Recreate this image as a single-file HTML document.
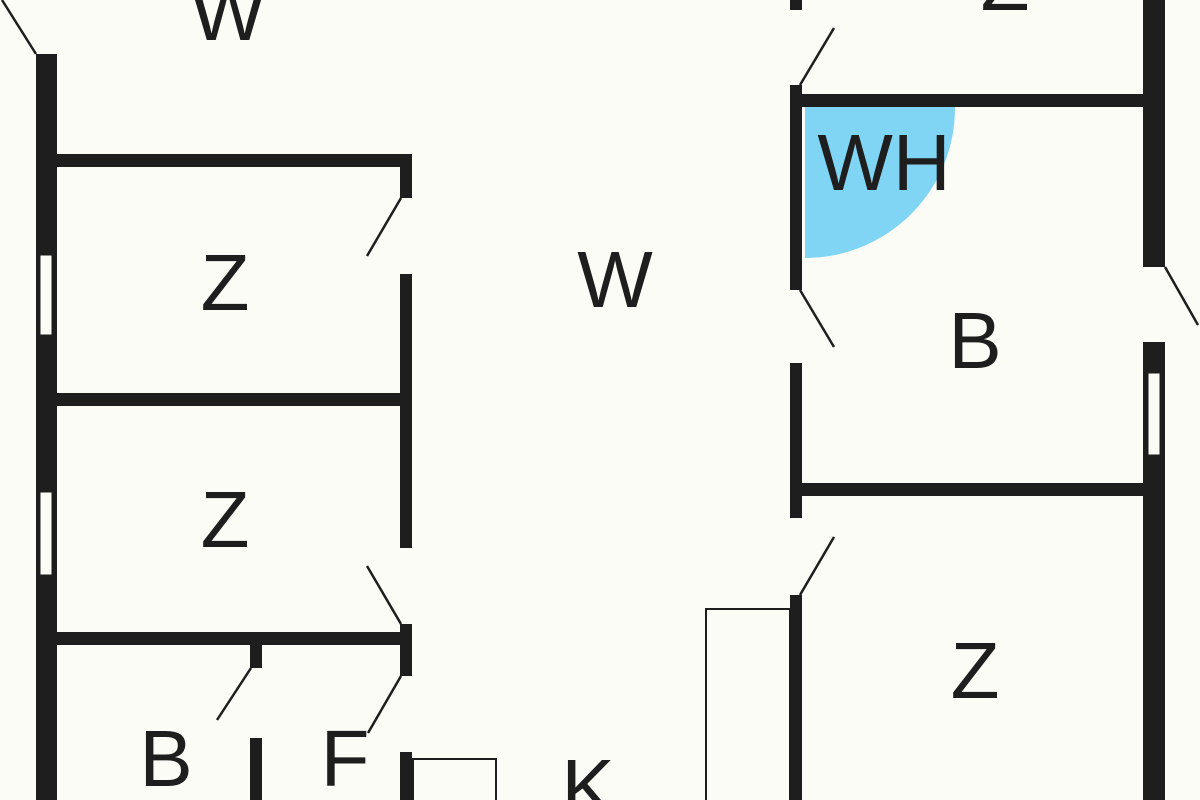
<!DOCTYPE html>
<html><head><meta charset="utf-8"><style>html,body{margin:0;padding:0;background:#fcfcf7;}svg{display:block}</style></head>
<body>
<svg width="1200" height="800" viewBox="0 0 1200 800" xmlns="http://www.w3.org/2000/svg">
<rect width="1200" height="800" fill="#fcfcf7"/>
<path d="M805,107 L955,107 A150,150 0 0 1 805,258 Z" fill="#80d4f4"/>
<g fill="#1e1e1e">
<!-- left outer wall -->
<rect x="36" y="54" width="21" height="746"/>
<!-- left rooms -->
<rect x="56" y="154" width="356" height="13"/>
<rect x="400" y="154" width="12" height="44"/>
<rect x="400" y="274" width="12" height="274"/>
<rect x="56" y="393" width="356" height="13"/>
<rect x="400" y="624" width="12" height="52"/>
<rect x="56" y="632" width="356" height="13"/>
<rect x="250" y="645" width="12" height="23"/>
<rect x="250" y="738" width="12" height="62"/>
<rect x="400" y="752" width="12" height="48"/>
<!-- right column -->
<rect x="790" y="0" width="12" height="10"/>
<rect x="790" y="85" width="12" height="205"/>
<rect x="790" y="363" width="12" height="155"/>
<rect x="790" y="595" width="12" height="205"/>
<rect x="802" y="94" width="341" height="13"/>
<rect x="802" y="483" width="341" height="13"/>
<rect x="1143" y="0" width="22" height="267"/>
<rect x="1143" y="342" width="22" height="458"/>
</g>
<!-- windows -->
<g fill="#fcfcf7" stroke="#1e1e1e" stroke-width="1">
<rect x="40" y="255" width="12" height="80"/>
<rect x="40" y="492" width="12" height="83"/>
<rect x="1148" y="373" width="12" height="82"/>
</g>
<!-- door swings -->
<g stroke="#1e1e1e" stroke-width="2.5" fill="none">
<line x1="36" y1="54" x2="2" y2="0"/>
<line x1="401" y1="198" x2="367" y2="256"/>
<line x1="401" y1="624" x2="367" y2="566"/>
<line x1="251" y1="668" x2="217" y2="720"/>
<line x1="401" y1="676" x2="368" y2="733"/>
<line x1="800" y1="85" x2="834" y2="28"/>
<line x1="800" y1="290" x2="834" y2="347"/>
<line x1="800" y1="595" x2="834" y2="537"/>
<line x1="1165" y1="267" x2="1198" y2="325"/>
</g>
<!-- furniture -->
<g fill="none" stroke="#1e1e1e" stroke-width="2">
<rect x="413" y="759" width="83" height="45"/>
<rect x="706" y="609" width="84" height="195"/>
</g>
<g font-family="'Liberation Sans', sans-serif" font-size="80" fill="#1e1e1e" text-anchor="middle">
<text x="228" y="40">W</text>
<text x="1005" y="10">Z</text>
<text x="225" y="310">Z</text>
<text x="225" y="547">Z</text>
<text x="615" y="307">W</text>
<text x="884" y="190">WH</text>
<text x="975" y="368">B</text>
<text x="975" y="698">Z</text>
<text x="166" y="786">B</text>
<text x="345" y="786">F</text>
<text x="588" y="815">K</text>
</g>
</svg>
</body></html>
